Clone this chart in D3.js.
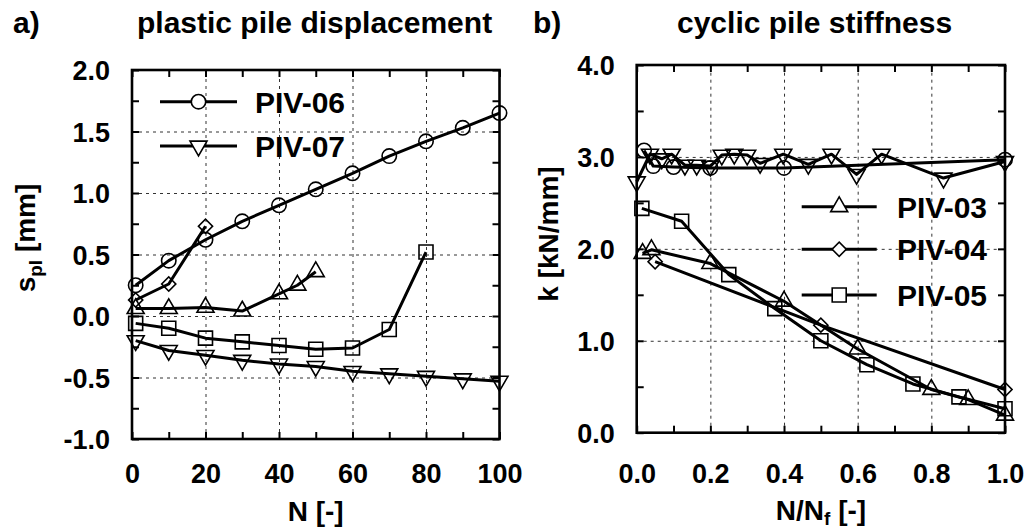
<!DOCTYPE html>
<html><head><meta charset="utf-8">
<script src="https://cdn.jsdelivr.net/npm/d3@7"></script>
<style>
body{margin:0;background:#fff;}
text{font-family:"Liberation Sans",Arial,sans-serif;font-weight:bold;fill:#000;}
</style></head>
<body><svg id="c" width="1028" height="530"></svg>
<script>
// ---- data: panel a) plastic pile displacement ----
const N06 = [1,10,20,30,40,50,60,70,80,90,100];
const s06 = [0.25,0.45,0.62,0.77,0.90,1.03,1.16,1.30,1.42,1.53,1.65];
const N07 = [1,10,20,30,40,50,60,70,80,90,100];
const s07 = [-0.20,-0.28,-0.32,-0.36,-0.39,-0.41,-0.45,-0.47,-0.49,-0.51,-0.53];
const N05 = [1,10,20,30,40,50,60,70,80];
const s05 = [-0.06,-0.10,-0.18,-0.21,-0.24,-0.27,-0.26,-0.11,0.52];
const N03 = [1,10,20,30,40,45,50];
const s03 = [0.06,0.06,0.07,0.04,0.18,0.25,0.36];
const N04 = [1,10,20];
const s04 = [0.13,0.26,0.73];
// ---- data: panel b) cyclic pile stiffness ----
const r03 = [0.016,0.04,0.2,0.4,0.6,0.8,0.9,1.0];
const k03 = [1.95,1.99,1.84,1.43,0.91,0.47,0.36,0.19];
const r04 = [0.05,0.5,1.0];
const k04 = [1.86,1.17,0.47];
const r05 = [0.014,0.122,0.25,0.375,0.5,0.625,0.75,0.875,1.0];
const k05 = [2.44,2.30,1.72,1.35,1.00,0.74,0.53,0.39,0.26];
const r06 = [0.02,0.045,0.10,0.2,0.4,1.0];
const k06 = [3.07,2.90,2.89,2.88,2.88,2.97];
const r07 = [0.0,0.036,0.068,0.095,0.131,0.163,0.2,0.231,0.265,0.30,0.335,0.398,0.466,0.529,0.597,0.665,0.833,1.0];
const k07 = [2.73,3.03,2.98,3.03,2.91,2.91,2.90,3.02,3.03,3.02,2.93,3.03,2.92,3.03,2.81,3.03,2.77,2.95];
// ---- tick labels ----
const xTicksA = [0,20,40,60,80,100];
const yTicksA = [-1.0,-0.5,0.0,0.5,1.0,1.5,2.0];
const xTicksB = [0.0,0.2,0.4,0.6,0.8,1.0];
const yTicksB = [0.0,1.0,2.0,3.0,4.0];
const legendA = ["PIV-06","PIV-07"];
const legendB = ["PIV-03","PIV-04","PIV-05"];

const svg = d3.select("#c");
const hy = f => (v => f(v).replace("\u2212","-"));

const shapes = {
  circle: d3.symbol().type(d3.symbolCircle).size(Math.PI*7.2*7.2)(),
  square: d3.symbol().type(d3.symbolSquare).size(196)(),
  up: d3.symbol().type(d3.symbolTriangle).size(125)(),
  diamond: d3.symbol().type(d3.symbolSquare).size(100)()
};
function marker(g, type, x, y, fill){
  let rot = 0, p = shapes[type];
  if(type==="down"){ p = shapes.up; rot = 180; }
  if(type==="diamond"){ rot = 45; }
  g.append("path").attr("d", p)
    .attr("transform", `translate(${x},${y}) rotate(${rot})`)
    .attr("fill", fill).attr("stroke","#000").attr("stroke-width",1.6);
}

function panel(opt){
  const {x0,x1,y0,y1,xd,yd,xMinor,yMinor,xGrid,yGrid,xLab,yLab,xFmt,yFmt} = opt;
  const x = d3.scaleLinear().domain(xd).range([x0,x1]);
  const y = d3.scaleLinear().domain(yd).range([y1,y0]);
  const g = svg.append("g");
  const W = x1-x0, H = y1-y0;
  const gx = g.append("g").attr("transform",`translate(0,${y1})`)
    .call(d3.axisBottom(x).tickValues(xGrid).tickSize(-H).tickFormat(""));
  const gy = g.append("g").attr("transform",`translate(${x0},0)`)
    .call(d3.axisLeft(y).tickValues(yGrid).tickSize(-W).tickFormat(""));
  [gx,gy].forEach(a=>{a.select(".domain").remove();
    a.selectAll("line").attr("stroke","#333").attr("stroke-width",1).attr("stroke-dasharray","3,4");});
  const tk = 7;
  const axes = [
    g.append("g").attr("transform",`translate(0,${y1})`).call(d3.axisBottom(x).tickValues(xMinor).tickSize(-tk).tickFormat("")),
    g.append("g").attr("transform",`translate(0,${y0})`).call(d3.axisTop(x).tickValues(xMinor).tickSize(-tk).tickFormat("")),
    g.append("g").attr("transform",`translate(${x0},0)`).call(d3.axisLeft(y).tickValues(yMinor).tickSize(-tk).tickFormat("")),
    g.append("g").attr("transform",`translate(${x1},0)`).call(d3.axisRight(y).tickValues(yMinor).tickSize(-tk).tickFormat(""))
  ];
  axes.forEach(a=>{a.select(".domain").remove();a.selectAll("line").attr("stroke","#000").attr("stroke-width",2);});
  const lx = g.append("g").attr("transform",`translate(0,${y1})`)
    .call(d3.axisBottom(x).tickValues(xLab).tickSize(0).tickFormat(xFmt));
  lx.select(".domain").remove();
  lx.selectAll("text").attr("y", 483-y1).attr("dy",0).style("font-size","27px")
    .style("font-family","'Liberation Sans',Arial,sans-serif").style("font-weight","bold").attr("fill","#000");
  const ly = g.append("g").attr("transform",`translate(${x0},0)`)
    .call(d3.axisLeft(y).tickValues(yLab).tickSize(0).tickFormat(yFmt));
  ly.select(".domain").remove();
  ly.selectAll("text").attr("x",-22).attr("dy","0.36em").style("font-size","27px")
    .style("font-family","'Liberation Sans',Arial,sans-serif").style("font-weight","bold").attr("fill","#000");
  g.append("rect").attr("x",x0).attr("y",y0).attr("width",W).attr("height",H)
    .attr("fill","none").attr("stroke","#000").attr("stroke-width",2.6);
  const clipId = "clip"+Math.round(x0);
  svg.append("clipPath").attr("id",clipId).append("rect")
    .attr("x",x0-10).attr("y",y0-10).attr("width",W+20).attr("height",H+20);
  const data = g.append("g").attr("clip-path",`url(#${clipId})`);
  return {x,y,g,data};
}

function series(P, xs, ys, type){
  const pts = xs.map((v,i)=>[P.x(v),P.y(ys[i])]);
  P.data.append("path").attr("d", d3.line()(pts)).attr("fill","none")
    .attr("stroke","#000").attr("stroke-width",3).attr("stroke-linejoin","round");
  pts.forEach(p=>marker(P.data,type,p[0],p[1],"none"));
}

function legendRow(g, lx0, lx1, ly, type, label, tx){
  g.append("line").attr("x1",lx0).attr("x2",lx1).attr("y1",ly).attr("y2",ly)
    .attr("stroke","#000").attr("stroke-width",3);
  marker(g,type,(lx0+lx1)/2,ly,"#fff");
  g.append("text").attr("x",tx).attr("y",ly+11).style("font-size","30px").text(label);
}

// ---- panel a ----
const A = panel({x0:132,x1:499.5,y0:70,y1:439,xd:[0,100],yd:[-1,2],
  xMinor:d3.range(0,101,10), yMinor:d3.range(-1,2.01,0.25),
  xGrid:[20,40,60,80], yGrid:[-0.5,0,0.5,1.0,1.5],
  xLab:xTicksA, yLab:yTicksA, xFmt:hy(d3.format("d")), yFmt:hy(d3.format(".1f"))});
series(A,N05,s05,"square");
series(A,N03,s03,"up");
series(A,N04,s04,"diamond");
series(A,N07,s07,"down");
series(A,N06,s06,"circle");
legendRow(A.g,160,237,101.7,"circle",legendA[0],255);
legendRow(A.g,160,237,146,"down",legendA[1],255);

// ---- panel b ----
const B = panel({x0:636.7,x1:1005,y0:65,y1:432.7,xd:[0,1],yd:[0,4],
  xMinor:d3.range(0,1.001,0.1), yMinor:d3.range(0,4.01,0.5),
  xGrid:[0.2,0.4,0.6,0.8], yGrid:[1,2,3],
  xLab:xTicksB, yLab:yTicksB, xFmt:hy(d3.format(".1f")), yFmt:hy(d3.format(".1f"))});
series(B,r03,k03,"up");
series(B,r04,k04,"diamond");
series(B,r05,k05,"square");
series(B,r07,k07,"down");
series(B,r06,k06,"circle");
legendRow(B.g,801.7,876.7,206.7,"up",legendB[0],897);
legendRow(B.g,801.7,876.7,249.3,"diamond",legendB[1],897);
legendRow(B.g,801.7,876.7,295,"square",legendB[2],897);

// ---- titles ----
svg.append("text").attr("x",13).attr("y",33).style("font-size","30px").text("a)");
svg.append("text").attr("x",137).attr("y",33).style("font-size","30px").text("plastic pile displacement");
svg.append("text").attr("x",533).attr("y",33).style("font-size","30px").text("b)");
svg.append("text").attr("x",677).attr("y",33).style("font-size","30px").text("cyclic pile stiffness");

// ---- axis titles ----
svg.append("text").attr("x",315.7).attr("y",521).attr("text-anchor","middle").style("font-size","28px").text("N [-]");
const xb = svg.append("text").attr("x",821).attr("y",520).attr("text-anchor","middle").style("font-size","28px");
xb.append("tspan").text("N/N");
xb.append("tspan").attr("dy",5).style("font-size","19px").text("f");
xb.append("tspan").attr("dy",-5).text(" [-]");
const ya = svg.append("text").attr("transform","translate(35,238) rotate(-90)").attr("text-anchor","middle").style("font-size","28px");
ya.append("tspan").text("s");
ya.append("tspan").attr("dy",7).style("font-size","19px").text("pl");
ya.append("tspan").attr("dy",-7).text(" [mm]");
svg.append("text").attr("transform","translate(558,234) rotate(-90)").attr("text-anchor","middle").style("font-size","28px").text("k [kN/mm]");
</script></body></html>
